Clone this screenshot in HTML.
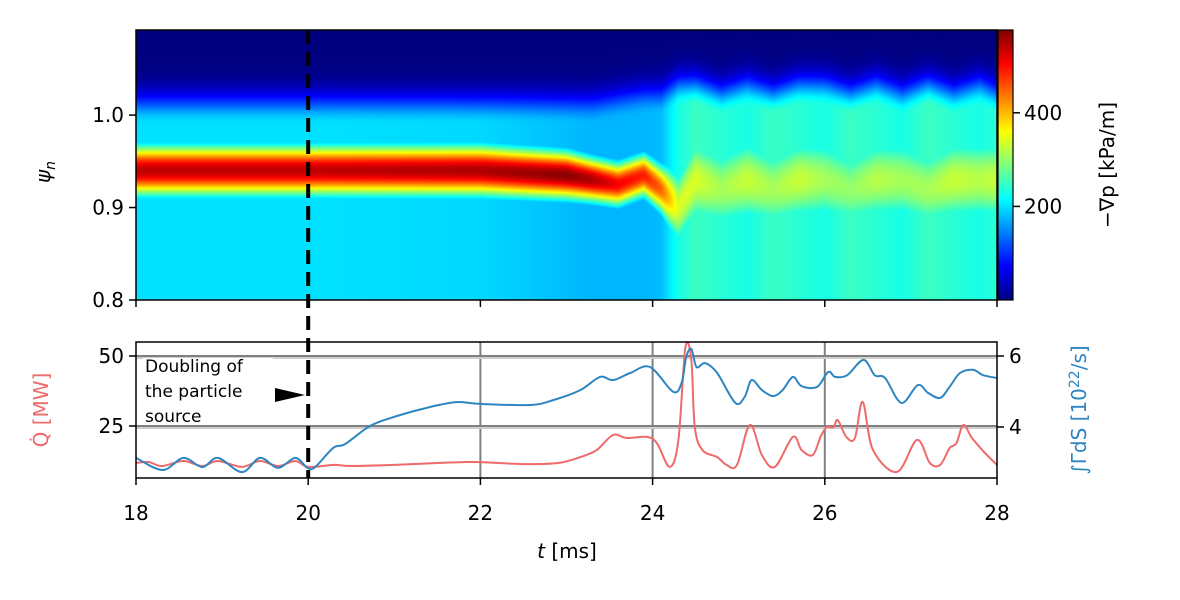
<!DOCTYPE html>
<html><head><meta charset="utf-8">
<style>
body{margin:0;background:#fff;width:1180px;height:600px;overflow:hidden;font-family:"DejaVu Sans","Liberation Sans",sans-serif}
#wrap{position:relative;width:1180px;height:600px}
canvas,svg{position:absolute;left:0;top:0}
</style></head>
<body>
<div id="wrap">
<canvas id="heat" width="1180" height="600"></canvas>
<svg id="svg" width="1180" height="600"></svg>
</div>
<script>
// ---------- data ----------
const heatTimes = [18,20,22,23,23.3,23.6,23.9,24.1,24.3,24.5,24.8,25.1,25.4,25.7,26,26.3,26.6,26.9,27.2,27.5,27.8,28];
const heatCenter = [0.94,0.94,0.94,0.935,0.93,0.925,0.935,0.92,0.9,0.93,0.92,0.93,0.92,0.93,0.93,0.92,0.93,0.93,0.92,0.93,0.93,0.93];
const heatPeak = [540,540,550,570,550,510,490,450,340,340,310,330,310,330,310,300,320,310,310,330,320,330];
const heatWidth = [0.03,0.03,0.03,0.028,0.026,0.026,0.026,0.03,0.05,0.06,0.06,0.06,0.06,0.06,0.06,0.06,0.06,0.06,0.06,0.06,0.06,0.06];
const heatLower = [200,200,195,180,175,175,175,180,230,250,240,230,250,240,230,250,240,230,250,240,230,240];
const heatEdge = [0.99,0.99,0.99,0.99,0.99,0.995,1.0,1.0,1.01,1.01,1.0,1.01,1.0,1.01,1.01,1.0,1.01,1.0,1.01,1.0,1.01,1.0];

const qTimes = [18,18.15,18.3,18.55,18.77,18.95,19.23,19.44,19.65,19.85,20,20.3,20.5,21,21.5,21.8,22,22.5,22.9,23.16,23.35,23.54,23.7,23.93,24.05,24.2,24.3,24.38,24.45,24.49,24.58,24.75,24.86,24.98,25.13,25.27,25.42,25.63,25.73,25.86,25.95,26.02,26.1,26.15,26.25,26.35,26.44,26.56,26.84,27.07,27.22,27.34,27.45,27.53,27.61,27.71,27.86,28];
const qValues = [11.8,12.1,10.7,12.5,10.7,12.5,10.4,12.5,10.7,12.5,10.4,11.1,10.7,11.1,11.8,12.1,12.1,11.4,11.8,13.9,16.4,21.8,20.7,21.1,18.9,10.4,20,52.9,48.6,24.6,16.4,13.9,11.1,11.1,25.4,14.6,10.4,21.1,16.4,14.6,21.1,24.6,24.6,27.1,21.1,20.7,33.6,16.4,8.6,20,11.8,11.1,17.1,18.9,25.4,20.7,15.4,11.1];

const gTimes = [18,18.31,18.55,18.77,18.95,19.23,19.44,19.65,19.85,19.99,20.08,20.29,20.43,20.72,21.03,21.41,21.72,22,22.58,22.85,23.16,23.39,23.54,23.74,23.97,24.24,24.34,24.39,24.45,24.51,24.61,24.75,24.96,25.07,25.15,25.27,25.4,25.51,25.63,25.73,25.91,26.04,26.12,26.26,26.45,26.58,26.7,26.89,27.08,27.2,27.34,27.45,27.57,27.72,27.84,28];
const gValues = [3.13,2.79,3.13,2.87,3.13,2.73,3.13,2.85,3.13,2.85,2.87,3.41,3.52,4.03,4.31,4.56,4.70,4.65,4.62,4.76,5.04,5.41,5.32,5.52,5.69,4.99,5.27,5.97,6.20,5.69,5.80,5.52,4.68,4.85,5.32,5.04,4.87,5.04,5.41,5.15,5.13,5.55,5.41,5.46,5.89,5.46,5.38,4.68,5.18,4.96,4.82,5.13,5.52,5.61,5.46,5.38];

const xTicks = [18,20,22,24,26,28];
const psiTicks = [0.8,0.9,1.0];
const cbTicks = [200,400];
const qTicks = [25,50];
const gTicks = [4,6];

// ---------- scales ----------
const X0=136,X1=997;
const tx = t => X0 + (t-18)/(28-18)*(X1-X0);
const TY0=30,TY1=300;
const py = p => TY1 - (p-0.8)/(1.092-0.8)*(TY1-TY0);
const CBMAX=577;
const cy = v => TY1 - v/CBMAX*(TY1-TY0);
const BY0=342,BY1=478;
const qy = q => 356 + (50-q)*2.8;
const gy = g => 356 + (6-g)*35.5;

function jet(x){x=Math.max(0,Math.min(1,x));
 const r=Math.max(0,Math.min(1,Math.min(4*x-1.5,-4*x+4.5)));
 const g=Math.max(0,Math.min(1,Math.min(4*x-0.5,-4*x+3.5)));
 const b=Math.max(0,Math.min(1,Math.min(4*x+0.5,-4*x+2.5)));
 return [r*255|0,g*255|0,b*255|0];}
function interp(ts,vs,t){if(t<=ts[0])return vs[0];for(let i=1;i<ts.length;i++){if(t<=ts[i]){const f=(t-ts[i-1])/(ts[i]-ts[i-1]);return vs[i-1]+f*(vs[i]-vs[i-1]);}}return vs[vs.length-1];}

// ---------- heatmap ----------
const ctx=document.getElementById('heat').getContext('2d');
const W=X1-X0,H=TY1-TY0;
const img=ctx.createImageData(W,H);
for(let i=0;i<W;i++){
 const t=18+(i+0.5)/W*10;
 const c=interp(heatTimes,heatCenter,t),pk=interp(heatTimes,heatPeak,t),w=interp(heatTimes,heatWidth,t),lo=interp(heatTimes,heatLower,t),ed=interp(heatTimes,heatEdge,t);
 for(let j=0;j<H;j++){
  const p=1.092-(j+0.5)/H*0.292;
  let base=p<ed?lo:lo*Math.exp(-Math.pow((p-ed)/0.03,2));
  const g=pk*Math.exp(-Math.pow((p-c)/w,2));
  const v=Math.max(base,g);
  const col=jet(v/CBMAX);const k=(j*W+i)*4;
  img.data[k]=col[0];img.data[k+1]=col[1];img.data[k+2]=col[2];img.data[k+3]=255;
 }}
ctx.putImageData(img,X0,TY0);
const cb=ctx.createImageData(15,H);
for(let j=0;j<H;j++){const col=jet(1-(j+0.5)/H);for(let i=0;i<15;i++){const k=(j*15+i)*4;cb.data[k]=col[0];cb.data[k+1]=col[1];cb.data[k+2]=col[2];cb.data[k+3]=255;}}
ctx.putImageData(cb,998,TY0);

// ---------- svg ----------
const NS='http://www.w3.org/2000/svg';
const svg=document.getElementById('svg');
function mk(tag,attrs,parent){const e=document.createElementNS(NS,tag);for(const k in attrs)e.setAttribute(k,attrs[k]);(parent||svg).appendChild(e);return e;}
function txt(s,x,y,anchor,size,fill,extra){const e=mk('text',Object.assign({x:x,y:y,'text-anchor':anchor,'font-size':size,fill:fill||'#000','font-family':'DejaVu Sans, Liberation Sans, sans-serif'},extra||{}));e.textContent=s;return e;}

for(const t of [22,24,26]){const l=mk('line',{x1:tx(t),x2:tx(t),y1:BY0,y2:BY1,stroke:'#808080','stroke-width':2});

}
for(const q of qTicks){const l=mk('line',{x1:X0,x2:X1,y1:qy(q),y2:qy(q),stroke:'#808080','stroke-width':2});


const l2=mk('line',{x1:X0,x2:X1,y1:qy(q)+2,y2:qy(q)+2,stroke:'#cfcfcf','stroke-width':2});

}

const ab=mk('rect',{x:143,y:358,width:130,height:67,fill:'#fff'});


const an=mk('text',{x:145,y:372,'font-size':17,'font-family':'DejaVu Sans, Liberation Sans, sans-serif',fill:'#000'});


['Doubling of','the particle','source'].forEach((s,i)=>{const ts=mk('tspan',{x:145,dy:i?25:0},an);ts.textContent=s;});
const ar=mk('polygon',{points:'275,388 305,395 275,402',fill:'#000'});



// smooth path (Catmull-Rom)
function pathOf(ts,vs,yf){const P=ts.map((t,i)=>[tx(t),yf(vs[i])]);let d='M'+P[0][0].toFixed(1)+','+P[0][1].toFixed(1);
 for(let i=0;i<P.length-1;i++){const p0=P[Math.max(0,i-1)],p1=P[i],p2=P[i+1],p3=P[Math.min(P.length-1,i+2)];
  const c1=[p1[0]+(p2[0]-p0[0])/6,p1[1]+(p2[1]-p0[1])/6],c2=[p2[0]-(p3[0]-p1[0])/6,p2[1]-(p3[1]-p1[1])/6];
  d+='C'+c1[0].toFixed(1)+','+c1[1].toFixed(1)+' '+c2[0].toFixed(1)+','+c2[1].toFixed(1)+' '+p2[0].toFixed(1)+','+p2[1].toFixed(1);}
 return d;}
const qp=mk('path',{d:pathOf(qTimes,qValues,qy),fill:'none',stroke:'#ef6a6a','stroke-width':2,'stroke-linejoin':'round'});


const gp=mk('path',{d:pathOf(gTimes,gValues,gy),fill:'none',stroke:'#2e86c1','stroke-width':2,'stroke-linejoin':'round'});



const f1=mk('rect',{x:X0,y:TY0,width:X1-X0,height:TY1-TY0,fill:'none',stroke:'#000','stroke-width':1.5});


const f2=mk('rect',{x:X0,y:BY0,width:X1-X0,height:BY1-BY0,fill:'none',stroke:'#000','stroke-width':1.5});


const f3=mk('rect',{x:998,y:TY0,width:15,height:TY1-TY0,fill:'none',stroke:'#000','stroke-width':1.2});



const FS=20;
for(const t of xTicks){
 mk('line',{x1:tx(t),x2:tx(t),y1:TY1,y2:TY1+7,stroke:'#000','stroke-width':1.5});
 mk('line',{x1:tx(t),x2:tx(t),y1:BY1,y2:BY1+7,stroke:'#000','stroke-width':1.5});
 const l=txt(String(t),tx(t),BY1+42,'middle',FS);
 
 
}
for(const p of psiTicks){
 mk('line',{x1:X0-7,x2:X0,y1:py(p),y2:py(p),stroke:'#000','stroke-width':1.5});
 const l=txt(p.toFixed(1),X0-12,py(p)+7,'end',FS);
 
 
}
for(const v of cbTicks){
 mk('line',{x1:1013,x2:1020,y1:cy(v),y2:cy(v),stroke:'#000','stroke-width':1.5});
 const l=txt(String(v),1024,cy(v)+7,'start',FS);
 
 
}
for(const q of qTicks){
 mk('line',{x1:X0-7,x2:X0,y1:qy(q),y2:qy(q),stroke:'#000','stroke-width':1.5});
 const l=txt(String(q),X0-12,qy(q)+7,'end',FS);
 
 
}
for(const g of gTicks){
 mk('line',{x1:X1,x2:X1+7,y1:gy(g),y2:gy(g),stroke:'#000','stroke-width':1.5});
 const l=txt(String(g),X1+12,gy(g)+7,'start',FS);
 
 
}

const dl=mk('line',{x1:tx(20),x2:tx(20),y1:TY0,y2:BY1,stroke:'#000','stroke-width':4,'stroke-dasharray':'14,8'});



const xt=txt('',567,558,'middle',FS);


xt.innerHTML='<tspan font-style="italic">t</tspan> [ms]';
const yt=txt('',0,0,'middle',FS,'#000',{transform:'translate(50,172) rotate(-90)'});


yt.innerHTML='<tspan font-style="italic">ψ</tspan><tspan font-size="14" dy="5" font-style="italic">n</tspan>';
const ct=txt('−∇p [kPa/m]',0,0,'middle',FS,'#000',{transform:'translate(1114,165) rotate(-90)'});


const qt=txt('Q̇ [MW]',0,0,'middle',FS,'#ef6a6a',{transform:'translate(48,410) rotate(-90)'});


const gt=txt('',0,0,'middle',FS,'#2e86c1',{transform:'translate(1086,410) rotate(-90)'});


gt.innerHTML='∫ΓdS [10<tspan font-size="14" dy="-7">22</tspan><tspan dy="7">/s]</tspan>';
</script>
</body></html>
